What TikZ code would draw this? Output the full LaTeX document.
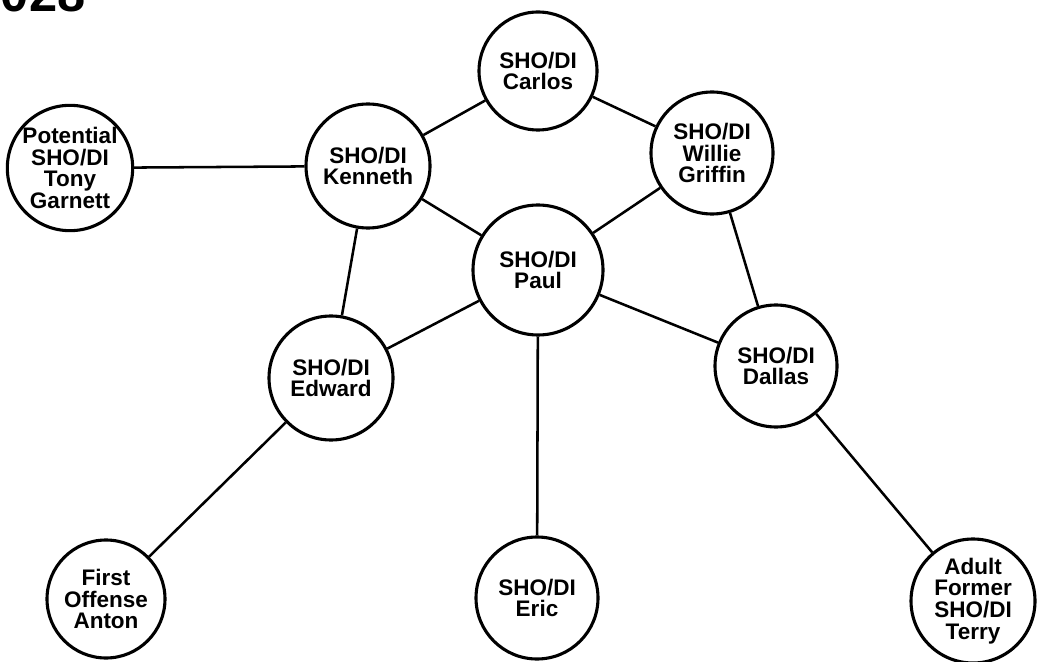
\documentclass[tikz,border=0pt]{standalone}
\usepackage{fontspec}
\setmainfont{Liberation Sans}
\usepackage{tikz}
\usetikzlibrary{positioning}

\begin{document}
\begin{tikzpicture}[
  x=0.025cm,y=-0.025cm,
  every node/.style={font=\bfseries\fontsize{16}{15.5}\selectfont},
  member/.style={draw,circle,line width=2.2pt,inner sep=0pt,align=center},
  link/.style={line width=1.8pt}
]
\useasboundingbox (0,0) rectangle (1039,662);
\clip (0,0) rectangle (1039,662);

\node[anchor=base west,font=\bfseries\fontsize{36}{36}\selectfont] (pg) at (-4,12) {028};

\node[member,minimum size=118*0.025cm] (carlos)  at (538, 71)  {SHO/DI\\Carlos};
\node[member,minimum size=124*0.025cm] (kenneth) at (368,166)  {SHO/DI\\Kenneth};
\node[member,minimum size=122*0.025cm] (willie)  at (712,153)  {SHO/DI\\Willie\\Griffin};
\node[member,minimum size=120*0.025cm] (tony)    at (70,168)   {Potential\\SHO/DI\\Tony\\Garnett};
\node[member,minimum size=130*0.025cm] (paul)    at (538,270)  {SHO/DI\\Paul};
\node[member,minimum size=124*0.025cm] (edward)  at (331,378)  {SHO/DI\\Edward};
\node[member,minimum size=122*0.025cm] (dallas)  at (776,366)  {SHO/DI\\Dallas};
\node[member,minimum size=118*0.025cm] (anton)   at (106,599)  {First\\Offense\\Anton};
\node[member,minimum size=122*0.025cm] (eric)    at (537,598)  {SHO/DI\\Eric};
\node[member,minimum size=124*0.025cm] (terry)   at (973,601)  {Adult\\Former\\SHO/DI\\Terry};

\draw[link] (carlos) -- (kenneth);
\draw[link] (carlos) -- (willie);
\draw[link] (tony) -- (kenneth);
\draw[link] (kenneth) -- (paul);
\draw[link] (kenneth) -- (edward);
\draw[link] (willie) -- (paul);
\draw[link] (willie) -- (dallas);
\draw[link] (paul) -- (edward);
\draw[link] (paul) -- (dallas);
\draw[link] (paul) -- (eric);
\draw[link] (edward) -- (anton);
\draw[link] (dallas) -- (terry);
\end{tikzpicture}
\end{document}
